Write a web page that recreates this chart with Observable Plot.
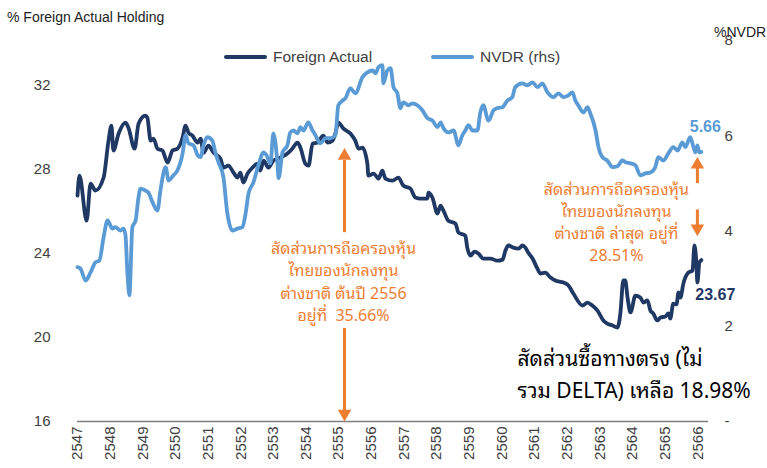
<!DOCTYPE html>
<html><head><meta charset="utf-8">
<script src="https://cdn.jsdelivr.net/npm/d3@7"></script>
<script src="https://cdn.jsdelivr.net/npm/@observablehq/plot@0.6"></script>
<style>
html,body{margin:0;padding:0;background:#fff;}
#chart{position:relative;width:767px;height:468px;overflow:hidden;}
</style></head><body><div id="chart"></div>
<script>
// ---- data ----
const years = d3.range(2547, 2567);
const leftTicks = [16, 20, 24, 28, 32];
const rightTicks = [0, 2, 4, 6, 8];
const seriesNames = ["Foreign Actual", "NVDR (rhs)"];
const leftTitle = "% Foreign Actual Holding";
const rightTitle = "%NVDR";

const foreignT = [2547.00,2547.06,2547.28,2547.40,2547.55,2547.80,2547.95,2548.04,2548.10,2548.26,
2548.47,2548.56,2548.75,2548.87,2549.08,2549.14,2549.24,2549.33,2549.45,2549.60,
2549.76,2549.91,2550.06,2550.22,2550.31,2550.40,2550.52,2550.68,2550.77,2550.86,
2551.01,2551.17,2551.38,2551.47,2551.62,2551.78,2551.90,2551.99,2552.08,2552.21,
2552.36,2552.51,2552.60,2552.70,2552.85,2553.00,2553.22,2553.43,2553.58,2553.74,
2553.83,2553.98,2554.08,2554.20,2554.35,2554.53,2554.66,2554.81,2554.90,2554.99,
2555.15,2555.36,2555.51,2555.61,2555.73,2555.88,2555.91,2556.07,2556.22,2556.34,
2556.43,2556.65,2556.83,2556.98,2557.20,2557.35,2557.51,2557.72,2557.75,2557.87,
2558.03,2558.12,2558.21,2558.36,2558.58,2558.67,2558.88,2558.94,2559.04,2559.16,
2559.28,2559.43,2559.65,2559.86,2560.02,2560.11,2560.20,2560.35,2560.51,2560.63,
2560.72,2560.81,2560.94,2561.09,2561.18,2561.33,2561.49,2561.64,2561.89,2562.04,
2562.19,2562.47,2562.62,2562.77,2562.93,2563.11,2563.23,2563.39,2563.54,2563.63,
2563.72,2563.78,2563.85,2563.94,2564.09,2564.24,2564.34,2564.46,2564.55,2564.64,
2564.76,2564.86,2565.01,2565.10,2565.16,2565.25,2565.35,2565.41,2565.47,2565.56,
2565.71,2565.84,2565.90,2565.96,2565.99,2566.05,2566.11];
const foreignV = [26.73,27.68,25.54,27.30,26.97,27.59,29.34,30.06,28.87,29.68,
30.20,29.96,28.96,30.15,30.53,30.43,29.34,29.44,28.96,28.87,
28.30,28.87,28.96,29.49,30.06,29.72,29.58,29.25,29.44,28.77,
29.11,28.77,28.49,28.06,28.16,27.82,27.59,27.82,27.35,27.78,
28.06,28.25,27.92,28.39,28.06,28.39,28.54,28.73,28.96,29.25,
29.01,28.25,28.16,29.20,29.25,29.58,29.25,29.34,29.68,30.20,
29.91,29.68,29.34,28.96,29.01,28.25,27.68,27.78,27.54,27.92,
27.54,27.44,27.59,27.21,27.06,26.64,26.59,26.59,26.87,26.64,
25.88,26.26,26.02,25.54,25.40,24.97,24.83,24.26,23.88,24.07,
23.98,23.74,23.74,23.64,23.69,24.12,24.36,24.26,24.21,24.36,
24.26,24.02,23.74,23.26,23.03,23.07,22.84,22.70,22.60,22.46,
22.08,21.51,21.65,21.51,21.27,20.80,20.65,20.56,20.46,21.13,
22.70,22.70,21.89,21.18,21.98,21.89,21.65,21.75,21.27,21.13,
20.80,20.94,20.99,21.13,20.89,21.60,21.56,22.13,21.89,22.55,
23.07,23.17,24.36,23.50,22.60,23.55,23.67];

const nvdrT = [2547.00,2547.09,2547.25,2547.40,2547.55,2547.67,2547.80,2547.92,2548.07,2548.16,
2548.32,2548.41,2548.47,2548.53,2548.59,2548.68,2548.78,2548.87,2548.93,2549.08,
2549.17,2549.30,2549.45,2549.54,2549.70,2549.79,2549.94,2550.06,2550.22,2550.31,
2550.40,2550.55,2550.68,2550.77,2550.86,2550.98,2551.13,2551.23,2551.32,2551.47,
2551.59,2551.75,2551.90,2552.05,2552.15,2552.24,2552.39,2552.54,2552.70,2552.79,
2552.91,2553.00,2553.13,2553.16,2553.28,2553.43,2553.52,2553.62,2553.74,2553.83,
2553.92,2554.07,2554.20,2554.29,2554.44,2554.60,2554.75,2554.90,2554.99,2555.12,
2555.21,2555.36,2555.51,2555.73,2555.88,2556.04,2556.13,2556.22,2556.34,2556.37,
2556.49,2556.59,2556.68,2556.80,2556.89,2556.98,2557.14,2557.26,2557.41,2557.57,
2557.72,2557.87,2558.03,2558.12,2558.21,2558.36,2558.52,2558.67,2558.79,2558.88,
2558.98,2559.10,2559.25,2559.34,2559.43,2559.59,2559.74,2559.86,2560.02,2560.17,
2560.32,2560.41,2560.63,2560.78,2560.94,2561.09,2561.24,2561.40,2561.58,2561.73,
2561.89,2562.04,2562.16,2562.25,2562.34,2562.50,2562.62,2562.71,2562.87,2562.96,
2563.08,2563.23,2563.39,2563.54,2563.69,2563.81,2563.94,2564.09,2564.24,2564.40,
2564.55,2564.70,2564.79,2564.95,2565.10,2565.25,2565.38,2565.53,2565.62,2565.77,
2565.87,2565.93,2565.99,2566.05,2566.11];
const nvdrV = [3.24,3.21,2.96,3.13,3.34,3.38,3.87,4.22,4.05,4.08,
4.01,4.05,3.91,3.11,2.65,4.08,4.22,4.71,4.89,4.85,
4.81,4.60,4.43,4.85,5.34,5.06,5.17,5.27,5.63,6.01,
5.84,5.80,5.59,5.55,5.80,5.97,5.90,5.63,5.44,5.13,
4.37,4.01,4.05,4.08,4.37,4.79,5.02,5.38,5.65,5.59,
5.42,6.05,5.38,5.11,5.65,5.80,6.07,6.11,6.05,6.18,
6.11,6.28,6.11,6.01,5.84,5.95,5.95,6.01,6.64,6.74,
6.79,7.00,6.89,7.23,7.33,7.37,7.31,7.44,7.48,7.10,
7.37,7.42,7.02,6.89,6.58,6.70,6.64,6.68,6.64,6.53,
6.37,6.32,6.18,6.28,6.16,6.07,6.11,5.80,6.01,6.11,
6.22,6.11,6.11,6.49,6.64,6.32,6.53,6.58,6.60,6.74,
6.81,7.02,7.10,7.06,7.12,7.02,7.10,6.91,6.81,6.89,
6.81,6.85,6.91,6.74,6.64,6.49,6.60,6.47,6.11,5.76,
5.55,5.48,5.34,5.36,5.48,5.44,5.42,5.38,5.17,5.21,
5.23,5.34,5.55,5.48,5.63,5.76,5.69,5.86,5.76,5.97,
5.76,5.65,5.80,5.65,5.66];

const noteStart = ["สัดส่วนการถือครองหุ้น", "ไทยของนักลงทุน", "ต่างชาติ ต้นปี 2556", "อยู่ที่  35.66%"];
const noteLatest = ["สัดส่วนการถือครองหุ้น", "ไทยของนักลงทุน", "ต่างชาติ ล่าสุด อยู่ที่", "28.51%"];
const noteDirect = ["สัดส่วนซื้อทางตรง (ไม่", "รวม DELTA) เหลือ 18.98%"];

// ---- build ----
const C_FOREIGN = "#1F3864", C_NVDR = "#5B9BD5", C_NOTE = "#ED7D31";
const yMin = 16, yMax = 34.1, rhsMax = 8;
const toLeft = v => yMin + v * (yMax - yMin) / rhsMax;
const fromLeft = y => (y - yMin) * rhsMax / (yMax - yMin);

const foreign = foreignT.map((t, i) => ({t, v: foreignV[i]}));
const nvdr = nvdrT.map((t, i) => ({t, v: nvdrV[i]}));
const lastF = foreign[foreign.length - 1];
const lastN = nvdr[nvdr.length - 1];

const thai = "Tahoma,'Noto Sans Thai Looped','Noto Sans Thai','Leelawadee UI','Noto Sans','DejaVu Sans',sans-serif";

// annotation geometry in data units (year, left-axis value)
const arrowX1 = 2555.18, arrowX2 = 2565.99;
const shafts = [
  {x: arrowX1, y1: 24.97, y2: 28.40},
  {x: arrowX1, y1: 16.40, y2: 20.42},
  {x: arrowX2, y1: 27.30, y2: 28.20},
  {x: arrowX2, y1: 25.20, y2: 26.05}
];
const heads = [
  {x: arrowX1, y: 28.62, rot: 0},
  {x: arrowX1, y: 16.37, rot: 180},
  {x: arrowX2, y: 28.20, rot: 0},
  {x: arrowX2, y: 25.17, rot: 180}
];

const plot = Plot.plot({
  width: 767, height: 468,
  marginLeft: 77, marginRight: 59, marginTop: 40, marginBottom: 47,
  x: {domain: [2547, 2566.33]},
  y: {domain: [yMin, yMax]},
  style: {fontFamily: "'Liberation Sans', Arial, sans-serif", fontSize: "15px", color: "#404040", background: "#fff"},
  marks: [
    Plot.axisX({ticks: years, tickFormat: d => String(d), tickRotate: -90, tickSize: 0, tickPadding: 5, label: null}),
    Plot.axisY({ticks: leftTicks, tickSize: 0, tickPadding: 27, label: null}),
    Plot.axisY({anchor: "right", ticks: rightTicks.map(toLeft), tickSize: 0, tickPadding: 16, label: null,
      tickFormat: d => { const v = Math.round(fromLeft(d)); return v === 0 ? "-" : String(v); }, textAnchor: "start"}),
    Plot.ruleY([yMin], {stroke: "#7f7f7f", strokeWidth: 1.5}),
    Plot.line(foreign, {x: "t", y: "v", stroke: C_FOREIGN, strokeWidth: 3.8, curve: "monotone-x", strokeLinejoin: "round"}),
    Plot.line(nvdr, {x: "t", y: d => toLeft(d.v), stroke: C_NVDR, strokeWidth: 3.8, curve: "monotone-x", strokeLinejoin: "round"}),
    Plot.ruleX(shafts, {x: "x", y1: "y1", y2: "y2", stroke: C_NOTE, strokeWidth: 3}),
    Plot.dot(heads, {x: "x", y: "y", rotate: "rot", symbol: "triangle", r: 5, fill: C_NOTE, stroke: null}),
    Plot.text([noteStart.join("\n")], {x: 2555.15, y: 22.70, text: d => d, fill: C_NOTE, fontSize: 16, lineHeight: 1.38, fontFamily: thai, textAnchor: "middle"}),
    Plot.text([noteLatest.join("\n")], {x: 2563.51, y: 25.54, text: d => d, fill: C_NOTE, fontSize: 16, lineHeight: 1.38, fontFamily: thai, textAnchor: "middle"}),
    Plot.text([noteDirect.join("\n")], {x: 2560.48, y: 18.35, text: d => d, fill: "#000", fontSize: 21, lineHeight: 1.48, fontFamily: thai, textAnchor: "start"}),
    Plot.text([lastN], {x: "t", y: d => toLeft(d.v), text: d => d.v.toFixed(2), fill: C_NVDR, fontWeight: "bold", fontSize: 16, dx: 4, dy: -25}),
    Plot.text([lastF], {x: "t", y: "v", text: d => d.v.toFixed(2), fill: C_FOREIGN, fontWeight: "bold", fontSize: 16, dx: 14, dy: 35})
  ]
});

document.getElementById("chart").appendChild(plot);
const svg = d3.select(plot);
const g = svg.append("g").attr("font-family", "'Liberation Sans', Arial, sans-serif").attr("text-anchor", "start");
g.append("text").attr("x", 7).attr("y", 22).attr("font-size", 14).attr("fill", "#222").attr("text-anchor", "start").text(leftTitle);
g.append("text").attr("x", 714).attr("y", 37).attr("font-size", 14).attr("fill", "#222").attr("text-anchor", "start").text(rightTitle);
const legend = [{name: seriesNames[0], color: C_FOREIGN, x: 226}, {name: seriesNames[1], color: C_NVDR, x: 433}];
legend.forEach(l => {
  g.append("line").attr("x1", l.x).attr("x2", l.x + 39).attr("y1", 57).attr("y2", 57)
    .attr("stroke", l.color).attr("stroke-width", 4).attr("stroke-linecap", "round");
  g.append("text").attr("x", l.x + 47).attr("y", 62).attr("font-size", 15.5).attr("fill", "#404040")
    .attr("text-anchor", "start").text(l.name);
});
</script></body></html>
